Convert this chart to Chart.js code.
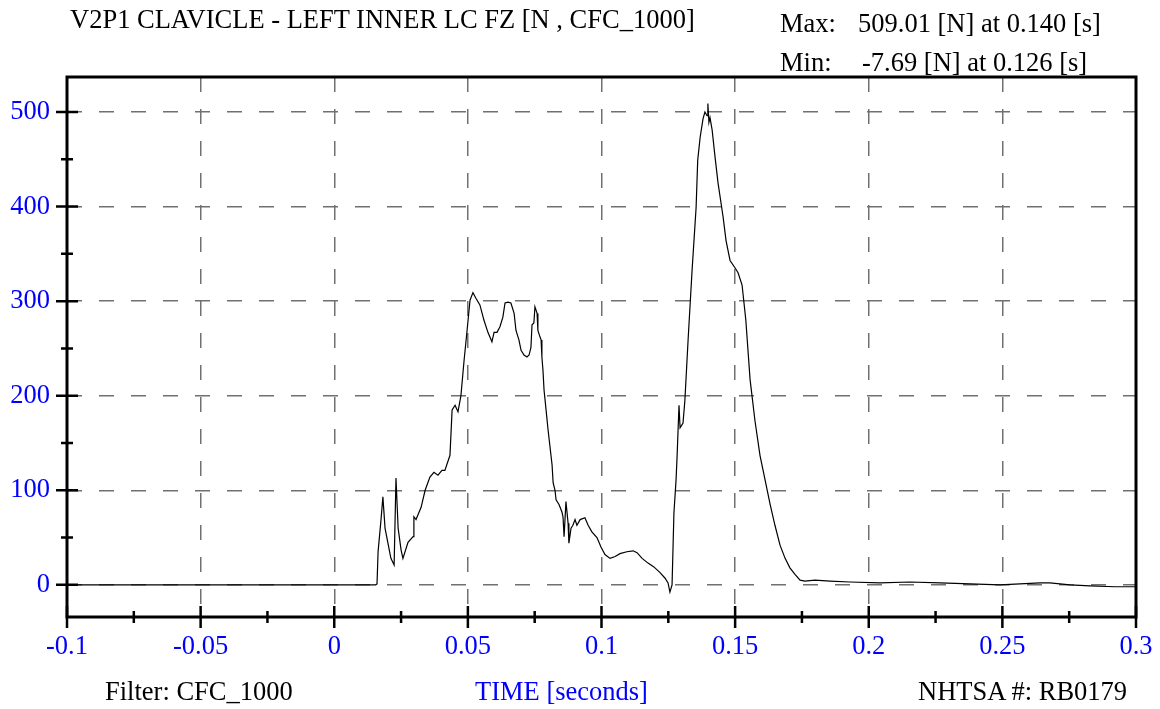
<!DOCTYPE html>
<html>
<head>
<meta charset="utf-8">
<script src="https://cdn.jsdelivr.net/npm/chart.js@4"></script>
<style>
  html, body { margin: 0; padding: 0; background: #fff; }
  #wrap { position: relative; width: 1160px; height: 709px; }
  canvas { position: absolute; left: 0; top: 0; }
  .txt { position: absolute; font-family: "Liberation Serif", "Times New Roman", serif; font-size: 26.5px; line-height: 26px; white-space: pre; color: #000; }
  .blue { color: #0000ff; }
</style>
</head>
<body>
<div id="wrap">
  <canvas id="chart" width="1160" height="709"></canvas>
  <div class="txt" style="left:70px; top:6px;">V2P1 CLAVICLE - LEFT INNER LC FZ [N , CFC_1000]</div>
  <div class="txt" style="left:780px; top:10px;">Max:</div>
  <div class="txt" style="left:858px; top:10px;">509.01 [N] at 0.140 [s]</div>
  <div class="txt" style="left:780px; top:49px;">Min:</div>
  <div class="txt" style="left:862px; top:49px;">-7.69 [N] at 0.126 [s]</div>
  <div class="txt" style="left:105px; top:678px;">Filter: CFC_1000</div>
  <div class="txt blue" style="left:475px; top:678px;">TIME [seconds]</div>
  <div class="txt" style="left:918px; top:678px;">NHTSA #: RB0179</div>
</div>
<script>
// time [s] and force [N]
const timeValues = [
  -0.1, -0.05, 0, 0.01, 0.0155, 0.0160, 0.0164, 0.0175, 0.0182, 0.0190,
  0.0212, 0.0224, 0.0231, 0.0239, 0.0250, 0.0257, 0.0276, 0.0295, 0.0298, 0.0306,
  0.0325, 0.0340, 0.0358, 0.0373, 0.0388, 0.0403, 0.0414, 0.0433, 0.0441, 0.0452,
  0.0463, 0.0474, 0.0486, 0.0497, 0.0508, 0.0519, 0.0530, 0.0545, 0.0560, 0.0575,
  0.0590, 0.0598, 0.0609, 0.0620, 0.0631, 0.0639, 0.0650, 0.0661, 0.0673, 0.0680,
  0.0691, 0.0699, 0.0710, 0.0721, 0.0729, 0.0736, 0.0740, 0.0747, 0.0751, 0.0759,
  0.0762, 0.0770, 0.0774, 0.0777, 0.0781, 0.0785, 0.0789, 0.0800, 0.0815, 0.0819,
  0.0826, 0.0830, 0.0841, 0.0852, 0.0856, 0.0860, 0.0867, 0.0875, 0.0878, 0.0886,
  0.0893, 0.0901, 0.0908, 0.0920, 0.0938, 0.0950, 0.0964, 0.0983, 0.0998, 0.1013,
  0.1032, 0.1051, 0.1069, 0.1095, 0.1118, 0.1133, 0.1152, 0.1174, 0.1196, 0.1219,
  0.1238, 0.1249, 0.1256, 0.1264, 0.1271, 0.1279, 0.1283, 0.1290, 0.1294, 0.1305,
  0.1312, 0.1324, 0.1339, 0.1354, 0.1360, 0.1369, 0.1380, 0.1387, 0.1395, 0.1398,
  0.1402, 0.1406, 0.1414, 0.1425, 0.1436, 0.1455, 0.1466, 0.1481, 0.1500, 0.1511,
  0.1526, 0.1540, 0.1556, 0.1574, 0.1593, 0.1612, 0.1631, 0.1649, 0.1668, 0.1687,
  0.1705, 0.1724, 0.1743, 0.1761, 0.1799, 0.1855, 0.1930, 0.2042, 0.2154, 0.2267,
  0.2379, 0.2491, 0.2641, 0.2678, 0.2753, 0.2828, 0.2921, 0.2996
];
const forceValues = [
  0, 0, 0, 0, 0, 1, 35, 69, 93, 60,
  28, 21, 113, 60, 37, 28, 45, 51, 72, 69,
  82, 100, 114, 119, 116, 121, 121, 137, 185, 190,
  183, 200, 238, 269, 301, 309, 303, 296, 280, 267,
  257, 267, 267, 273, 283, 298, 299, 298, 287, 269,
  259, 248, 243, 241, 243, 251, 275, 277, 294, 287,
  269, 262, 259, 241, 227, 206, 195, 164, 127, 108,
  100, 90, 85, 77, 72, 51, 88, 65, 44, 60,
  63, 69, 63, 69, 71, 63, 56, 50, 40, 32,
  28, 30, 33, 35, 36, 34, 28, 23, 19, 13,
  7, 2, -7.69, 0, 76, 111, 137, 190, 166, 171,
  195, 259, 333, 399, 449, 473, 493, 500, 496, 509.01,
  489, 494, 481, 452, 425, 389, 364, 343, 335, 330,
  317, 280, 217, 174, 137, 111, 85, 63, 42, 28,
  18, 11, 5, 4, 5, 4, 3, 2, 3, 2,
  1, 0, 2, 2, 0, -1, -2, -2
];
const xTicks = [-0.1, -0.05, 0, 0.05, 0.1, 0.15, 0.2, 0.25, 0.3];
const xMinorTicks = [-0.075, -0.025, 0.025, 0.075, 0.125, 0.175, 0.225, 0.275];
const yTicks = [0, 100, 200, 300, 400, 500];
const yMinorTicks = [50, 150, 250, 350, 450];

const points = timeValues.map((t, i) => ({ x: t, y: forceValues[i] }));
const labelFont = { family: "'Liberation Serif', 'Times New Roman', serif", size: 26.5 };

// frame and tick marks (crossing the axis like the original plot)
const framePlugin = {
  id: "frame",
  afterDraw(chart) {
    const { ctx, chartArea: a, scales } = chart;
    ctx.save();
    ctx.strokeStyle = "#000";
    ctx.lineWidth = 3;
    ctx.strokeRect(a.left, a.top, a.right - a.left, a.bottom - a.top);
    ctx.lineWidth = 2.5;
    ctx.beginPath();
    yTicks.forEach((v) => {
      const y = scales.y.getPixelForValue(v);
      ctx.moveTo(a.left - 11, y);
      ctx.lineTo(a.left + 11, y);
    });
    yMinorTicks.forEach((v) => {
      const y = scales.y.getPixelForValue(v);
      ctx.moveTo(a.left - 6, y);
      ctx.lineTo(a.left + 6, y);
    });
    xTicks.forEach((v) => {
      const x = scales.x.getPixelForValue(v);
      ctx.moveTo(x, a.bottom - 11);
      ctx.lineTo(x, a.bottom + 11);
    });
    xMinorTicks.forEach((v) => {
      const x = scales.x.getPixelForValue(v);
      ctx.moveTo(x, a.bottom - 6);
      ctx.lineTo(x, a.bottom + 6);
    });
    ctx.stroke();
    ctx.restore();
  },
};

new Chart(document.getElementById("chart"), {
  type: "line",
  data: {
    datasets: [
      {
        data: points,
        borderColor: "#000",
        borderWidth: 1.2,
        pointRadius: 0,
        tension: 0,
        fill: false,
      },
    ],
  },
  options: {
    responsive: false,
    animation: false,
    layout: { padding: { left: 0, right: 24, top: 77, bottom: 0 } },
    plugins: { legend: { display: false }, tooltip: { enabled: false } },
    scales: {
      x: {
        type: "linear",
        min: -0.1,
        max: 0.3,
        afterBuildTicks: (axis) => {
          axis.ticks = xTicks.map((v) => ({ value: v }));
        },
        afterFit: (axis) => {
          axis.height = 92;
          axis.paddingLeft = 0;
          axis.paddingRight = 0;
        },
        ticks: {
          color: "#0000ff",
          font: labelFont,
          padding: 14,
          maxRotation: 0,
          autoSkip: false,
          callback: (v) => String(parseFloat(Number(v).toFixed(3))),
        },
        grid: { color: "#707070", lineWidth: 1.5, drawTicks: false },
        border: { display: false, dash: [15, 17] },
      },
      y: {
        min: -34,
        max: 537,
        afterBuildTicks: (axis) => {
          axis.ticks = yTicks.map((v) => ({ value: v }));
        },
        afterFit: (axis) => {
          axis.width = 67;
        },
        ticks: {
          color: "#0000ff",
          font: labelFont,
          padding: 17,
          callback: (v) => String(v),
        },
        grid: { color: "#707070", lineWidth: 1.5, drawTicks: false },
        border: { display: false, dash: [15, 17] },
      },
    },
  },
  plugins: [framePlugin],
});
</script>
</body>
</html>
